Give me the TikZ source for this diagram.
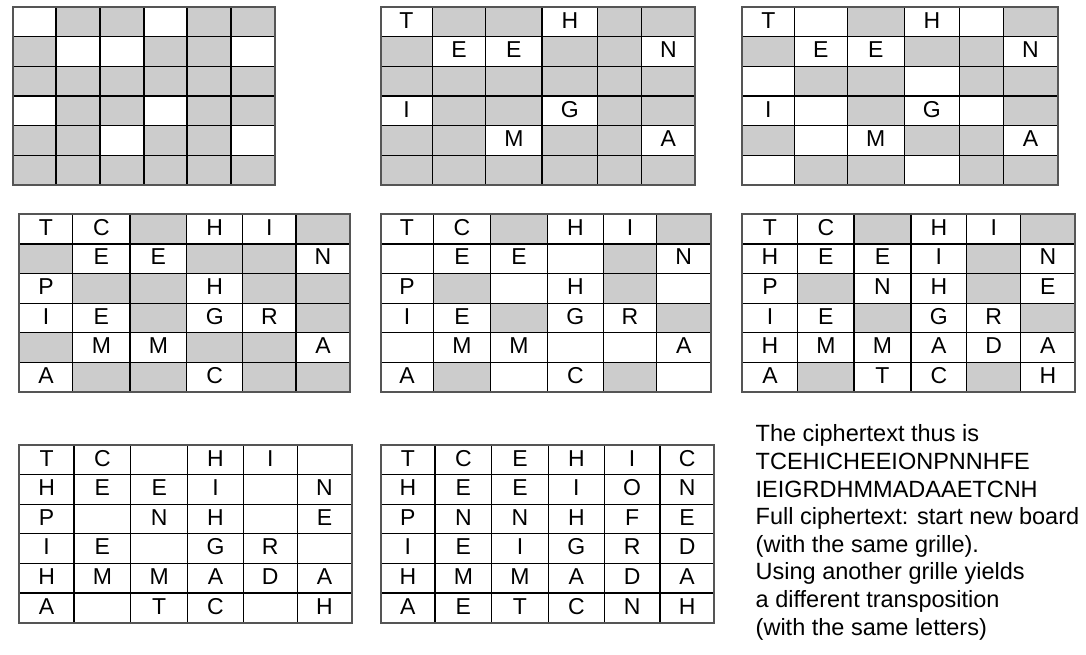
\documentclass[tikz,border=0pt]{standalone}
\usepackage{fontspec}
\setmainfont{Liberation Sans}
\definecolor{maskgray}{RGB}{204,204,204}
\definecolor{framegray}{RGB}{85,85,85}
\tikzset{
  gridline/.style={draw=black, line width=1.2pt},
  frameline/.style={draw=framegray, line width=1.8pt},
  mask/.style={fill=maskgray},
  letter/.style={anchor=base, inner sep=0pt, font=\fontsize{23}{23}\selectfont},
}
\def\rowh{29.6}
\def\graymark{*}
\def\blankmark{-}
% #1 name, #2 column edges, #3 top edge, #4 rows (* = covered, - = empty hole)
\newcommand{\board}[4]{%
  \def\xs{{#2}}%
  \foreach \rowdata [count=\rowno from 0] in {#4} {
    \foreach \entry [count=\colno from 0] in \rowdata {
      \pgfmathsetmacro\xl{\xs[\colno]}
      \pgfmathsetmacro\xr{\xs[\colno+1]}
      \pgfmathsetmacro\yt{#3+\rowno*\rowh}
      \pgfmathsetmacro\yb{\yt+\rowh}
      \ifx\entry\graymark
        \fill[mask] (\xl,\yt) rectangle (\xr,\yb);
      \else
        \ifx\entry\blankmark\else
          \node[letter] (#1-\rowno-\colno) at ({(\xl+\xr)/2},\yt+21) {\entry};
        \fi
      \fi
      \draw[gridline] (\xl,\yt) rectangle (\xr,\yb);
    }
  }
  \pgfmathsetmacro\xl{\xs[0]}
  \pgfmathsetmacro\xr{\xs[6]}
  \pgfmathsetmacro\yb{#3+6*\rowh}
  \draw[frameline] (\xl,#3) rectangle (\xr,\yb);
}

\begin{document}
\begin{tikzpicture}[x=1pt, y=-1pt]
\useasboundingbox (0,0) rectangle (1086,655);
% --- the grille ---
\board{g1}{12.7,56,100,144,187,231,275}{7.3}{
  {-,*,*,-,*,*},{*,-,-,*,*,-},{*,*,*,*,*,*},
  {-,*,*,-,*,*},{*,*,-,*,*,-},{*,*,*,*,*,*}}
% --- first position ---
\board{g2}{380.7,432.3,485.7,542,597.7,641.7,695}{7.3}{
  {T,*,*,H,*,*},{*,E,E,*,*,N},{*,*,*,*,*,*},
  {I,*,*,G,*,*},{*,*,M,*,*,A},{*,*,*,*,*,*}}
\board{g3}{742.3,794.3,847.3,904.3,959.3,1003.3,1057.7}{7.3}{
  {T,-,*,H,-,*},{*,E,E,*,*,N},{-,*,*,-,*,*},
  {I,-,*,G,-,*},{*,-,M,*,*,A},{-,*,*,-,*,*}}
% --- second row ---
\board{g4}{19.3,72.7,130,186.7,242.7,296,350}{214.3}{
  {T,C,*,H,I,*},{*,E,E,*,*,N},{P,*,*,H,*,*},
  {I,E,*,G,R,*},{*,M,M,*,*,A},{A,*,*,C,*,*}}
\board{g5}{380.7,433.3,490.7,547.3,603.3,656.7,710.7}{214.3}{
  {T,C,*,H,I,*},{-,E,E,-,*,N},{P,*,-,H,*,-},
  {I,E,*,G,R,*},{-,M,M,-,-,A},{A,*,-,C,*,-}}
\board{g6}{742.3,797.7,854,911,966.7,1020.7,1075}{214.3}{
  {T,C,*,H,I,*},{H,E,E,I,*,N},{P,*,N,H,*,E},
  {I,E,*,G,R,*},{H,M,M,A,D,A},{A,*,T,C,*,H}}
% --- third row ---
\board{g7}{19.3,74,130.7,187.7,243.3,297.3,351.7}{445}{
  {T,C,-,H,I,-},{H,E,E,I,-,N},{P,-,N,H,-,E},
  {I,E,-,G,R,-},{H,M,M,A,D,A},{A,-,T,C,-,H}}
\board{g8}{380.7,435,491.7,548.3,604.3,660,714.3}{445}{
  {T,C,E,H,I,C},{H,E,E,I,O,N},{P,N,N,H,F,E},
  {I,E,I,G,R,D},{H,M,M,A,D,A},{A,E,T,C,N,H}}
\node[anchor=north west, align=left, inner sep=0pt,
  font=\fontsize{23.5}{27.6}\selectfont] (summary) at (755.5,424.6)
  {The ciphertext thus is\\ TCEHICHEEIONPNNHFE\\ IEIGRDHMMADAAETCNH\\
   Full ciphertext: start new board\\ (with the same grille).\\
   Using another grille yields\\ a different transposition\\ (with the same letters)};
\end{tikzpicture}
\end{document}
